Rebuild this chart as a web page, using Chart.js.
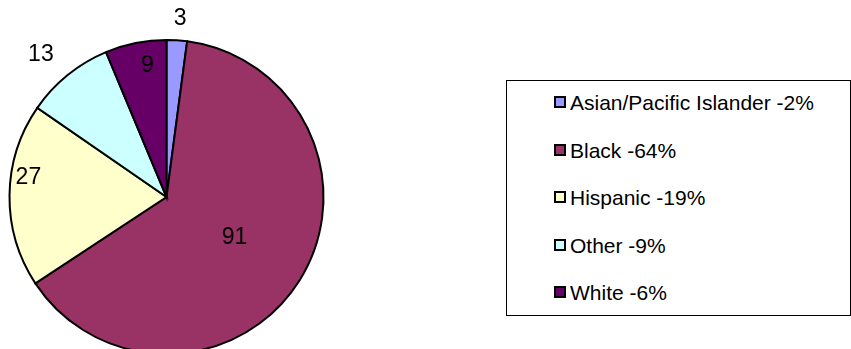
<!DOCTYPE html>
<html>
<head>
<meta charset="utf-8">
<script src="https://cdn.jsdelivr.net/npm/chart.js@4/dist/chart.umd.min.js"></script>
<style>
  html, body { margin:0; padding:0; background:#fff; width:851px; height:349px; overflow:hidden; }
  #wrap { position:absolute; left:0; top:0; width:333px; height:394px; }
  #legend { position:absolute; left:506px; top:80px; width:345px; height:236px; border:1px solid #000; box-sizing:border-box;
            font-family:"Liberation Sans", Arial, sans-serif; font-size:21px; color:#000; }
  .row { position:absolute; left:47px; height:24px; line-height:24px; white-space:nowrap; }
  .sw { display:inline-block; width:8px; height:8px; border:2px solid #000; vertical-align:middle; margin-right:4px; position:relative; top:-2px; }
</style>
</head>
<body>
<div id="wrap"><canvas id="c"></canvas></div>
<div id="legend"></div>
<script>
const categories = ["Asian/Pacific Islander", "Black", "Hispanic", "Other", "White"];
const counts = [3, 91, 27, 13, 9];
const colors = ["#9999FF", "#993366", "#FFFFCC", "#CCFFFF", "#660066"];
// label placement: fraction of radius and fraction of slice angle
const labelPlace = [
  {r: 1.15, a: 0.57},
  {r: 0.50, a: 0.49},
  {r: 0.89, a: 0.62},
  {r: 1.22, a: 0.44},
  {r: 0.86, a: 0.64}
];

const total = counts.reduce((s, v) => s + v, 0);

// HTML legend
const leg = document.getElementById('legend');
categories.forEach((c, i) => {
  const pct = Math.round(counts[i] / total * 100);
  const row = document.createElement('div');
  row.className = 'row';
  row.style.top = (10 + i * 47.5) + 'px';
  const sw = document.createElement('span');
  sw.className = 'sw';
  sw.style.background = colors[i];
  row.appendChild(sw);
  row.appendChild(document.createTextNode(c + ' -' + pct + '%'));
  leg.appendChild(row);
});

const labelPlugin = {
  id: 'sliceLabels',
  afterDatasetsDraw(chart) {
    const ctx = chart.ctx;
    const meta = chart.getDatasetMeta(0);
    ctx.save();
    ctx.font = '23px "Liberation Sans", Arial, sans-serif';
    ctx.fillStyle = '#000';
    ctx.textAlign = 'center';
    ctx.textBaseline = 'middle';
    meta.data.forEach((arc, i) => {
      const p = arc.getProps(['x', 'y', 'startAngle', 'endAngle', 'outerRadius'], true);
      const lp = labelPlace[i];
      const ang = p.startAngle + (p.endAngle - p.startAngle) * lp.a;
      const r = p.outerRadius * lp.r;
      ctx.fillText(String(counts[i]), p.x + Math.cos(ang) * r, p.y + Math.sin(ang) * r + 2);
    });
    ctx.restore();
  }
};

new Chart(document.getElementById('c'), {
  type: 'pie',
  data: {
    labels: categories,
    datasets: [{
      data: counts,
      backgroundColor: colors,
      borderColor: '#000',
      borderWidth: 2,
      borderJoinStyle: 'miter'
    }]
  },
  options: {
    responsive: true,
    maintainAspectRatio: false,
    animation: false,
    radius: 157,
    layout: { padding: 0 },
    plugins: {
      legend: { display: false },
      tooltip: { enabled: false }
    }
  },
  plugins: [labelPlugin]
});
</script>
</body>
</html>
